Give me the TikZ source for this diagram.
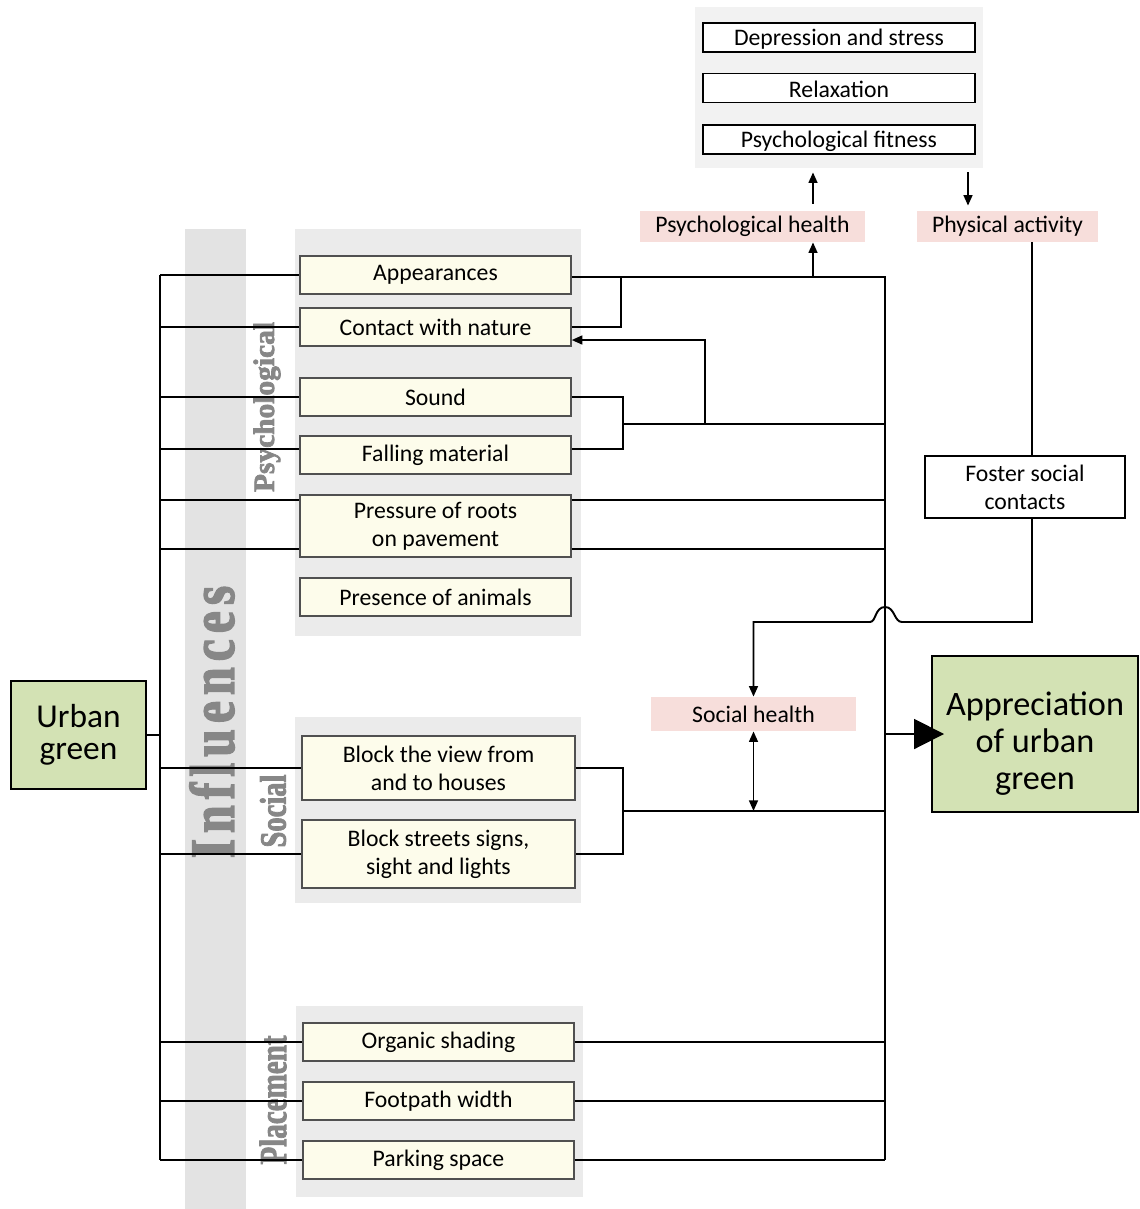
\documentclass[tikz,border=0pt]{standalone}
\usepackage{graphicx}
\usepackage{fontspec}
\setmainfont{Carlito}
\newfontfamily\grpfont{Liberation Serif}[UprightFont=* Bold, FakeBold=2.5]
\newfontfamily\bandfont{Liberation Serif}[UprightFont=* Bold, FakeBold=2.5, LetterSpace=12]
\usetikzlibrary{arrows.meta}

\definecolor{bandgray}{HTML}{E3E3E3}
\definecolor{panelgray}{HTML}{EBEBEB}
\definecolor{toppanel}{HTML}{F2F2F2}
\definecolor{itemfill}{HTML}{FDFCEB}
\definecolor{itemline}{HTML}{505050}
\definecolor{pinkfill}{HTML}{F7DEDB}
\definecolor{greenfill}{HTML}{D3E2B4}
\definecolor{labelgray}{HTML}{878787}

\tikzset{
  item/.style={draw=itemline, line width=0.8pt, fill=itemfill, minimum width=54.2mm,
    minimum height=7.6mm, inner sep=0pt, align=center, font=\fontsize{13.5}{16}\selectfont},
  outbox/.style={draw, line width=0.8pt, fill=white, minimum width=54.4mm,
    minimum height=5.8mm, inner sep=0pt, align=center, font=\fontsize{13.5}{16}\selectfont},
  health/.style={fill=pinkfill, minimum height=6.2mm, inner sep=0pt,
    font=\fontsize{13.5}{16}\selectfont},
  bigbox/.style={draw, line width=1.1pt, fill=greenfill, align=center, inner sep=0pt},
  panel/.style={fill=panelgray, inner sep=0pt},
  grp/.style={rotate=90, text=labelgray, inner sep=0pt},
  link/.style={line width=1.1pt},
  arr/.style={link, -{Triangle[length=6pt,width=5pt]}},
  dbl/.style={link, {Triangle[length=6pt,width=5pt]}-{Triangle[length=6pt,width=5pt]}}
}

\begin{document}
\begin{tikzpicture}[x=0.2mm, y=-0.2mm]
    \useasboundingbox (0,0) rectangle (1140,1209);

    % Background band and group panels
    \fill[bandgray] (185,229) rectangle (246,1209);
    \node[panel, minimum width=57.2mm, minimum height=81.4mm] (psypanel) at (438,432.5) {};
    \node[panel, minimum width=57.2mm, minimum height=37.2mm] (socpanel) at (438,810) {};
    \node[panel, minimum width=57.4mm, minimum height=38.2mm] (plcpanel) at (439.5,1101.5) {};
    \node[panel, fill=toppanel, minimum width=57.6mm, minimum height=32.2mm] (tops) at (839,87.5) {};

    % Rotated group labels
    \node[grp] (lblinf) at (212,722) {\resizebox*{54.5mm}{9mm}{\bandfont Influences}};
    \node[grp] (lblpsy) at (267,407) {\resizebox*{34mm}{5.4mm}{\grpfont Psychological}};
    \node[grp] (lblsoc) at (273,811) {\resizebox*{14.6mm}{5.2mm}{\grpfont Social}};
    \node[grp] (lblplc) at (273,1100) {\resizebox*{25.8mm}{5.4mm}{\grpfont Placement}};

    % Psychological items
    \node[item] (app) at (435.5,275) {Appearances};
    \node[item] (cwn) at (435.5,327) {Contact with nature};
    \node[item] (snd) at (435.5,397) {Sound};
    \node[item] (fall) at (435.5,455) {Falling material};
    \node[item, minimum height=12.4mm] (roots) at (435.5,526) {Pressure of roots\\on pavement};
    \node[item] (anim) at (435.5,597) {Presence of animals};

    % Social items
    \node[item, minimum width=54.6mm, minimum height=12.8mm] (view) at (438.5,768) {Block the view from\\and to houses};
    \node[item, minimum width=54.6mm, minimum height=13.6mm] (signs) at (438.5,854) {Block streets signs,\\sight and lights};

    % Placement items
    \node[item] (shade) at (438.5,1042) {Organic shading};
    \node[item] (path) at (438.5,1101) {Footpath width};
    \node[item] (park) at (438.5,1160) {Parking space};

    % Outcomes
    \node[outbox, text height=2.3ex] (dep) at (839,37.5) {Depression and stress};
    \node[outbox, text height=2.3ex] (relax) at (839,88) {Relaxation};
    \node[outbox, text height=2.3ex] (fit) at (839,139.5) {Psychological fitness};

    \node[health, minimum width=45mm] (psyh) at (752.5,226.5) {Psychological health};
    \node[health, minimum width=36.2mm] (phys) at (1007.5,226.5) {Physical activity};
    \node[health, minimum width=41mm, minimum height=6.8mm] (soch) at (753.5,714) {Social health};
    \node[outbox, minimum width=40mm, minimum height=12.4mm] (foster) at (1025,487) {Foster social\\contacts};

    \node[bigbox, minimum width=27mm, minimum height=21.6mm, font=\fontsize{19}{18}\selectfont] (urban) at (78.5,735) {Urban\\green};
    \node[bigbox, minimum width=41.2mm, minimum height=31.2mm, text height=66pt, font=\fontsize{19.5}{21}\selectfont] (appr) at (1035,734) {Appreciation\\of urban\\green};

    % Junction points
    \coordinate (trunk) at (160,0);
    \coordinate (bus) at (885,0);
    \coordinate (cwnj) at (621,0);
    \coordinate (psyj) at (623,424);
    \coordinate (loopj) at (705,424);
    \coordinate (socj) at (623,811);
    \coordinate (phj) at (813,277);
    \coordinate (paj) at (968,0);
    \coordinate (fline) at (1032,0);
    \coordinate (hop) at (885,622);

    % Left trunk
    \draw[link] (urban.east) -- (urban.east -| trunk);
    \draw[link] (app.west -| trunk) -- (park.west -| trunk);
    \foreach \n in {app, cwn, snd, view, signs, shade, path, park}
        \draw[link] (\n.west -| trunk) -- (\n.west);
    \draw[link] (trunk |- 0,449) -- (fall.west |- 0,449);
    \draw[link] (trunk |- 0,500) -- (roots.west |- 0,500);
    \draw[link] (trunk |- 0,549) -- (roots.west |- 0,549);

    % Right bus
    \draw[link] (app.east |- phj) -- (bus |- phj) -- (bus |- park.east);
    \draw[link] (cwn.east) -| (cwnj |- phj);
    \draw[link] (snd.east) -| (psyj) |- (fall.east |- 0,449);
    \draw[link] (psyj) -- (psyj -| bus);
    \draw[arr] (loopj) |- (cwn.east |- 0,340);
    \draw[link] (roots.east |- 0,500) -- (bus |- 0,500);
    \draw[link] (roots.east |- 0,549) -- (bus |- 0,549);
    \draw[link] (view.east) -| (socj) |- (signs.east);
    \draw[link] (socj) -- (socj -| bus);
    \foreach \n in {shade, path, park}
        \draw[link] (\n.east) -- (\n.east -| bus);
    \draw[link, -{Triangle[length=17pt,width=17pt]}] (appr.west -| bus) -- ([xshift=2.6mm]appr.west);

    % Health links
    \draw[arr] (phj) -- (phj |- psyh.south);
    \draw[arr, shorten <=1.4mm, shorten >=0.8mm] (phj |- psyh.north) -- (phj |- tops.south);
    \draw[arr, shorten <=0.8mm, shorten >=1mm] (paj |- tops.south) -- (paj |- phys.north);
    \draw[link] (fline |- phys.south) -- (fline |- foster.north);
    \draw[arr] (fline |- foster.south) -- (fline |- hop) -- ([shift={(17,0)}]hop)
        .. controls ([shift={(9,0)}]hop) and ([shift={(10,-15)}]hop) .. ([shift={(0,-15)}]hop)
        .. controls ([shift={(-10,-15)}]hop) and ([shift={(-9,0)}]hop) .. ([shift={(-15,0)}]hop)
        -- (soch.north |- hop) -- (soch.north);
    \draw[dbl] (soch.south) -- (soch.south |- socj);
\end{tikzpicture}
\end{document}
